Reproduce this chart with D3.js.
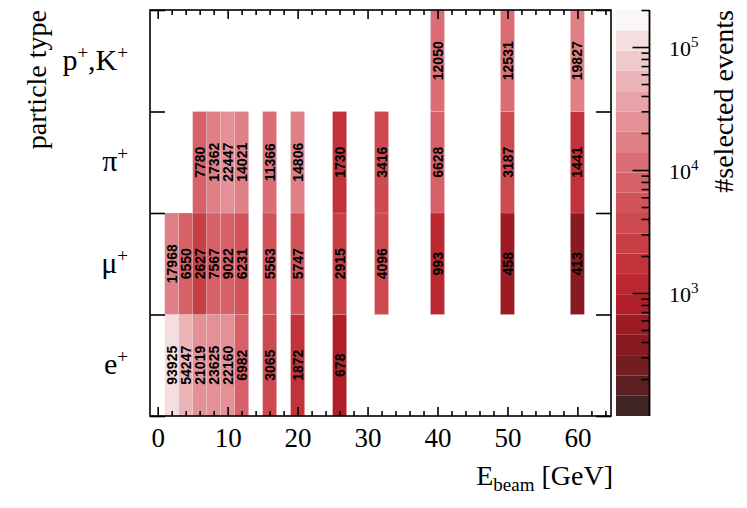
<!DOCTYPE html>
<html>
<head>
<meta charset="utf-8">
<script src="https://d3js.org/d3.v7.min.js"></script>
<style>
  body { margin: 0; background: #fff; }
  svg { display: block; }
</style>
</head>
<body>
<div id="plot"></div>
<script>
const FRAME_WIDTH = 747;
const FRAME_HEIGHT = 508;
const MARGIN = {left: 150, right: 136, top: 10, bottom: 92};

// beam energies (GeV), one column each
const beamEnergies = [2, 4, 6, 8, 10, 12, 16, 20, 26, 32, 40, 50, 60];
// rows, bottom to top
const particleLabels = ["e^+", "μ^+", "π^+", "p^+,K^+"];
// selected events per particle and energy (null = no run)
const countsE  = [93925, 54247, 21019, 23625, 22160, 6982, 3065, 1872, 678, null, null, null, null];
const countsMu = [17968, 6550, 2627, 7567, 9022, 6231, 5563, 5747, 2915, 4096, 993, 458, 413];
const countsPi = [null, null, 7780, 17362, 22447, 14021, 11366, 14806, 1730, 3416, 6628, 3187, 1441];
const countsPK = [null, null, null, null, null, null, null, null, null, null, 12050, 12531, 19827];
const counts = [countsE, countsMu, countsPi, countsPK];

const xTicks = [0, 10, 20, 30, 40, 50, 60];
const zTicks = [1e3, 1e4, 1e5];
const zMin = 100, zMax = 2e5;

// 20 band palette, low to high
const palette = ["#3f2325", "#5a1f21", "#721d20", "#881b21", "#9e1b23",
                 "#b01f29", "#bc2831", "#c1323a", "#c63f45", "#cc4a50",
                 "#d2535a", "#d76168", "#db6e75", "#df8086", "#e39196",
                 "#e7a3a7", "#ebb5b8", "#efc9cb", "#f4dee0", "#fbf6f7"];

const VIS_WIDTH = FRAME_WIDTH - MARGIN.left - MARGIN.right;
const VIS_HEIGHT = FRAME_HEIGHT - MARGIN.top - MARGIN.bottom;
const X0 = MARGIN.left, X1 = MARGIN.left + VIS_WIDTH;
const Y0 = MARGIN.top, Y1 = MARGIN.top + VIS_HEIGHT;

const FRAME = d3.select("#plot")
  .append("svg")
    .attr("width", FRAME_WIDTH)
    .attr("height", FRAME_HEIGHT);

const X_SCALE = d3.scaleLinear().domain([-1.1, 64.8]).range([X0, X1]);
const Y_SCALE = d3.scaleLinear().domain([0, 4]).range([Y1, Y0]);
const Z_SCALE = d3.scaleLog().domain([zMin, zMax]).range([Y1, Y0]);
const COLOR = d3.scaleQuantize()
  .domain([Math.log10(zMin), Math.log10(zMax)])
  .range(palette);

// flatten to cells
const cells = [];
counts.forEach((row, r) => {
  row.forEach((v, i) => {
    if (v !== null) cells.push({row: r, e: beamEnergies[i], v: v});
  });
});

FRAME.append("g").selectAll("rect")
  .data(cells)
  .enter()
  .append("rect")
    .attr("x", d => X_SCALE(d.e - 1))
    .attr("width", d => X_SCALE(d.e + 1) - X_SCALE(d.e - 1))
    .attr("y", d => Y_SCALE(d.row + 1))
    .attr("height", d => Y_SCALE(d.row) - Y_SCALE(d.row + 1))
    .attr("fill", d => COLOR(Math.log10(d.v)))
    .attr("stroke", "rgba(255,255,255,0.25)")
    .attr("stroke-width", 0.6);

FRAME.append("g").selectAll("text")
  .data(cells)
  .enter()
  .append("text")
    .attr("transform", d => "translate(" + X_SCALE(d.e) + "," + Y_SCALE(d.row + 0.5) + ") rotate(-90)")
    .attr("text-anchor", "middle")
    .attr("dy", "0.36em")
    .attr("font-family", "Liberation Sans, Arial, sans-serif")
    .attr("font-weight", "bold")
    .attr("font-size", "14px")
    .attr("fill", "#000")
    .text(d => d.v);

// ticks, all pointing inward
function styleAxis(g) {
  g.select(".domain").remove();
  g.selectAll("line").attr("stroke", "#000").attr("stroke-width", 1.6);
}
const xMinor = d3.range(0, 65, 2).filter(v => v % 10 !== 0);

FRAME.append("g")
  .attr("transform", "translate(0," + Y1 + ")")
  .call(d3.axisBottom(X_SCALE).tickValues(xTicks).tickSize(-9).tickPadding(12).tickFormat(d3.format("d")))
  .call(styleAxis)
  .call(g => g.selectAll("text")
      .attr("font-family", "Liberation Serif, Times New Roman, serif")
      .attr("font-size", "27px")
      .attr("fill", "#000"));
FRAME.append("g")
  .attr("transform", "translate(0," + Y1 + ")")
  .call(d3.axisBottom(X_SCALE).tickValues(xMinor).tickSize(-5).tickFormat(""))
  .call(styleAxis);
FRAME.append("g")
  .attr("transform", "translate(0," + Y0 + ")")
  .call(d3.axisTop(X_SCALE).tickValues(xTicks).tickSize(-9).tickFormat(""))
  .call(styleAxis);
FRAME.append("g")
  .attr("transform", "translate(0," + Y0 + ")")
  .call(d3.axisTop(X_SCALE).tickValues(xMinor).tickSize(-5).tickFormat(""))
  .call(styleAxis);

const rowEdges = d3.range(0, particleLabels.length + 1);
FRAME.append("g")
  .attr("transform", "translate(" + X0 + ",0)")
  .call(d3.axisLeft(Y_SCALE).tickValues(rowEdges).tickSize(-15).tickFormat(""))
  .call(styleAxis);
FRAME.append("g")
  .attr("transform", "translate(" + X1 + ",0)")
  .call(d3.axisRight(Y_SCALE).tickValues(rowEdges).tickSize(-15).tickFormat(""))
  .call(styleAxis);

// frame
FRAME.append("rect")
  .attr("x", X0).attr("y", Y0)
  .attr("width", VIS_WIDTH).attr("height", VIS_HEIGHT)
  .attr("fill", "none")
  .attr("stroke", "#000")
  .attr("stroke-width", 1.6);

// label with ^+ superscripts
function addSupText(sel, label, supSize, rise) {
  const parts = label.split("^");
  sel.append("tspan").text(parts[0]);
  for (let i = 1; i < parts.length; i++) {
    const sup = parts[i].charAt(0);
    const rest = parts[i].slice(1);
    sel.append("tspan").attr("font-size", supSize + "px").attr("dy", -rise).text(sup);
    sel.append("tspan").attr("dy", rise).text(rest);
  }
}

particleLabels.forEach((lab, r) => {
  const t = FRAME.append("text")
    .attr("x", 128)
    .attr("y", Y_SCALE(r + 0.5) + 9)
    .attr("text-anchor", "end")
    .attr("font-family", "Liberation Serif, Times New Roman, serif")
    .attr("font-size", "30px")
    .attr("fill", "#000");
  addSupText(t, lab, 19, 11);
});

// axis titles
FRAME.append("text")
  .attr("transform", "translate(46," + Y0 + ") rotate(-90)")
  .attr("text-anchor", "end")
  .attr("font-family", "Liberation Serif, Times New Roman, serif")
  .attr("font-size", "28px")
  .text("particle type");

const xt = FRAME.append("text")
  .attr("x", X1 + 2)
  .attr("y", 485)
  .attr("text-anchor", "end")
  .attr("font-family", "Liberation Serif, Times New Roman, serif")
  .attr("font-size", "28px");
xt.append("tspan").text("E");
xt.append("tspan").attr("font-size", "19px").attr("dy", 6).text("beam");
xt.append("tspan").attr("dy", -6).text(" [GeV]");

// colour bar
const CB_X0 = 616, CB_X1 = 649.5;
const bandStep = (Math.log10(zMax) - Math.log10(zMin)) / palette.length;
const bandEdge = i => Z_SCALE(Math.pow(10, Math.log10(zMin) + i * bandStep));
FRAME.append("g").selectAll("rect")
  .data(palette)
  .enter()
  .append("rect")
    .attr("x", CB_X0)
    .attr("width", CB_X1 - CB_X0)
    .attr("y", (d, i) => bandEdge(i + 1))
    .attr("height", (d, i) => bandEdge(i) - bandEdge(i + 1))
    .attr("fill", d => d);

const zMinor = [];
[100, 1000, 10000, 100000].forEach(dec => {
  for (let k = 2; k <= 9; k++) if (dec * k <= zMax) zMinor.push(dec * k);
});
FRAME.append("g")
  .attr("transform", "translate(" + CB_X1 + ",0)")
  .call(d3.axisRight(Z_SCALE).tickValues(zTicks).tickSize(-17).tickFormat(""))
  .call(styleAxis);
FRAME.append("g")
  .attr("transform", "translate(" + CB_X1 + ",0)")
  .call(d3.axisRight(Z_SCALE).tickValues(zMinor).tickSize(-8).tickFormat(""))
  .call(styleAxis);
FRAME.append("line")
  .attr("x1", CB_X1).attr("x2", CB_X1)
  .attr("y1", Y0).attr("y2", Y1)
  .attr("stroke", "#000").attr("stroke-width", 1.8);

zTicks.forEach(v => {
  const t = FRAME.append("text")
    .attr("x", 669)
    .attr("y", Z_SCALE(v) + 9)
    .attr("font-family", "Liberation Serif, Times New Roman, serif")
    .attr("font-size", "22px")
    .attr("fill", "#000");
  t.append("tspan").text("10");
  t.append("tspan").attr("font-size", "15px").attr("dy", -9).text(Math.round(Math.log10(v)));
});

FRAME.append("text")
  .attr("transform", "translate(733," + Y0 + ") rotate(-90)")
  .attr("text-anchor", "end")
  .attr("font-family", "Liberation Serif, Times New Roman, serif")
  .attr("font-size", "28px")
  .text("#selected events");
</script>
</body>
</html>
